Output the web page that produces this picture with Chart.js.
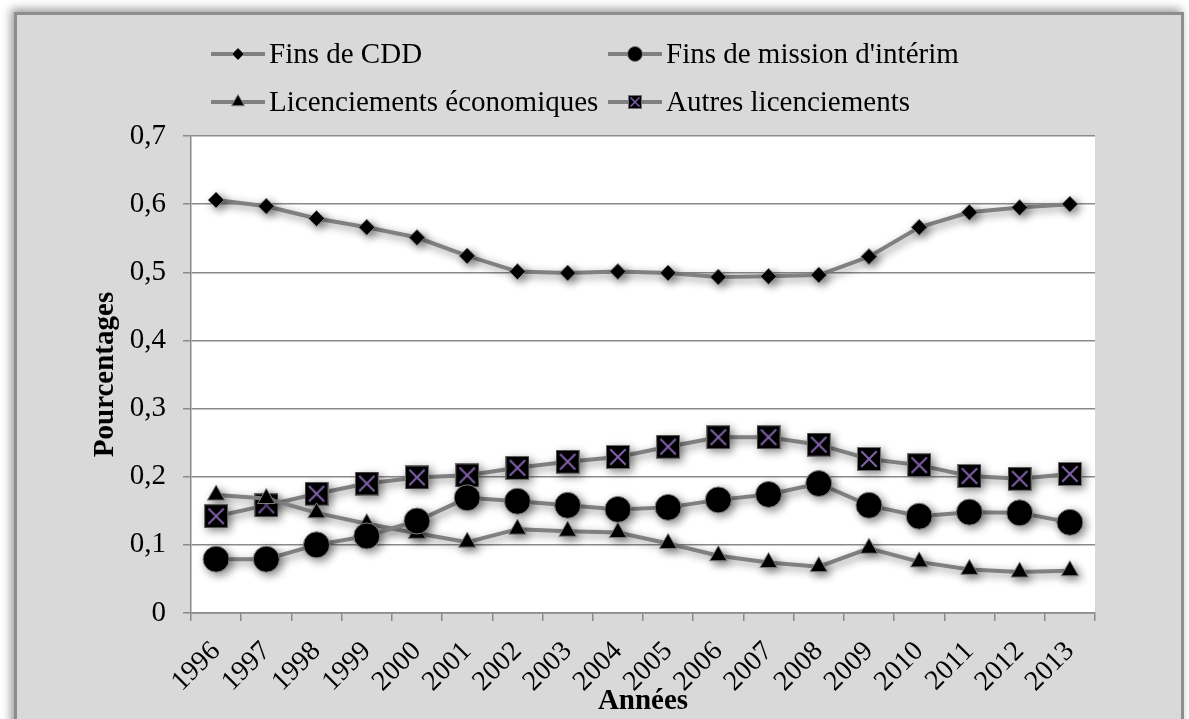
<!DOCTYPE html>
<html>
<head>
<meta charset="utf-8">
<script src="https://cdn.jsdelivr.net/npm/chart.js@4/dist/chart.umd.min.js"></script>
<style>
  body { margin: 0; background: #ffffff; overflow: hidden; }
  .frame {
    position: absolute; left: 14px; top: 12px; width: 1164px; height: 720px;
    background: #d9d9d9;
    border-left: 3px solid #8e8e8e; border-top: 3px solid #8e8e8e; border-right: 3px solid #8e8e8e;
    box-shadow: -3px -3px 9px rgba(0,0,0,0.4);
  }
  canvas { display: block; }
</style>
</head>
<body>
<div class="frame"><canvas id="chart" width="1164" height="704"></canvas></div>
<script>
// Data
const years = ['1996','1997','1998','1999','2000','2001','2002','2003','2004','2005','2006','2007','2008','2009','2010','2011','2012','2013'];
const finsCDD = [0.606, 0.597, 0.579, 0.566, 0.551, 0.524, 0.501, 0.499, 0.501, 0.499, 0.493, 0.494, 0.496, 0.523, 0.566, 0.588, 0.595, 0.600];
const finsInterim = [0.079, 0.079, 0.100, 0.113, 0.135, 0.169, 0.164, 0.158, 0.152, 0.155, 0.166, 0.174, 0.190, 0.158, 0.142, 0.148, 0.147, 0.133];
const licEco = [0.173, 0.168, 0.147, 0.131, 0.117, 0.104, 0.123, 0.120, 0.118, 0.102, 0.084, 0.074, 0.068, 0.095, 0.075, 0.064, 0.060, 0.062];
const autresLic = [0.142, 0.158, 0.175, 0.190, 0.199, 0.202, 0.213, 0.222, 0.229, 0.244, 0.258, 0.258, 0.247, 0.226, 0.217, 0.201, 0.197, 0.204];
const yTicks = [0, 0.1, 0.2, 0.3, 0.4, 0.5, 0.6, 0.7];

const LINE = '#808080';
const FONT = '"Liberation Serif", "Times New Roman", serif';
const FSIZE = 29;

// black square with a purple cross
function crossSquare(size) {
  const c = document.createElement('canvas');
  c.width = size; c.height = size;
  const g = c.getContext('2d');
  g.fillStyle = '#000';
  g.fillRect(0, 0, size, size);
  g.strokeStyle = '#6f6f6f';
  g.lineWidth = 1;
  g.strokeRect(0.5, 0.5, size - 1, size - 1);
  g.strokeStyle = '#8060a8';
  g.lineWidth = size > 15 ? 2 : 1.5;
  const m = size * 0.18;
  g.beginPath();
  g.moveTo(m, m); g.lineTo(size - m, size - m);
  g.moveTo(size - m, m); g.lineTo(m, size - m);
  g.stroke();
  return c;
}

const series = [
  { label: 'Fins de CDD', data: finsCDD, style: 'rectRot', radius: 8, legendRadius: 6 },
  { label: "Fins de mission d'intérim", data: finsInterim, style: 'circle', radius: 13, legendRadius: 7.5 },
  { label: 'Licenciements économiques', data: licEco, style: 'triangle', radius: 10, legendRadius: 7.5 },
  { label: 'Autres licenciements', data: autresLic, style: crossSquare(24), legendStyle: crossSquare(14), radius: 12, legendRadius: 7 }
];

const plotBg = {
  id: 'plotBg',
  beforeDraw(chart) {
    const { ctx, chartArea: a } = chart;
    ctx.save();
    ctx.fillStyle = '#ffffff';
    ctx.fillRect(a.left, a.top, a.right - a.left, a.bottom - a.top);
    ctx.restore();
  }
};

const shadow = {
  id: 'shadow',
  beforeDatasetsDraw(chart) {
    const ctx = chart.ctx;
    ctx.save();
    ctx.shadowColor = 'rgba(0,0,0,0.45)';
    ctx.shadowBlur = 9;
    ctx.shadowOffsetX = 3;
    ctx.shadowOffsetY = 3;
  },
  afterDatasetsDraw(chart) {
    chart.ctx.restore();
  }
};

// two-column legend: line + marker + label
const legend2col = {
  id: 'legend2col',
  afterDraw(chart) {
    const ctx = chart.ctx;
    const cols = [194, 591];
    const rows = [39, 87];
    ctx.save();
    ctx.font = FSIZE + 'px ' + FONT;
    ctx.textBaseline = 'middle';
    series.forEach((s, i) => {
      const x = cols[i % 2];
      const y = rows[Math.floor(i / 2)];
      ctx.strokeStyle = LINE;
      ctx.lineWidth = 4;
      ctx.beginPath();
      ctx.moveTo(x, y); ctx.lineTo(x + 54, y);
      ctx.stroke();
      const style = s.legendStyle || s.style;
      ctx.fillStyle = '#000';
      ctx.strokeStyle = LINE;
      ctx.lineWidth = 1;
      Chart.helpers.drawPoint(ctx, { pointStyle: style, radius: s.legendRadius, borderWidth: 1, rotation: 0 }, x + 27, y);
      ctx.fillStyle = '#000';
      ctx.fillText(s.label, x + 58, y + 1);
    });
    ctx.restore();
  }
};

new Chart(document.getElementById('chart'), {
  type: 'line',
  data: {
    labels: years,
    datasets: series.map(s => ({
      label: s.label,
      data: s.data,
      borderColor: LINE,
      borderWidth: 4,
      pointStyle: s.style,
      pointRadius: s.radius,
      pointBackgroundColor: '#000',
      pointBorderColor: LINE,
      pointBorderWidth: 1,
      tension: 0,
      clip: false
    }))
  },
  options: {
    responsive: false,
    animation: false,
    layout: { padding: { left: 71, top: 121, right: 86, bottom: 0 } },
    plugins: {
      legend: { display: false },
      tooltip: { enabled: false }
    },
    scales: {
      x: {
        offset: true,
        grid: { offset: true, drawOnChartArea: false, drawTicks: true, tickLength: 8, color: '#8a8a8a', lineWidth: 1.5 },
        border: { color: '#8a8a8a', width: 1.5 },
        ticks: { color: '#000', font: { family: FONT, size: 28 }, autoSkip: false, minRotation: 45, maxRotation: 45, padding: 14 },
        title: { display: true, text: 'Années', color: '#000', font: { family: FONT, size: FSIZE, weight: 'bold' }, padding: { top: 0, bottom: 0 } },
        afterFit(scale) { scale.height = 106; }
      },
      y: {
        min: 0,
        max: 0.7,
        afterBuildTicks(scale) { scale.ticks = yTicks.map(v => ({ value: v })); },
        grid: { color: '#8a8a8a', lineWidth: 1.5, tickLength: 8 },
        border: { color: '#8a8a8a', width: 1.5 },
        ticks: {
          color: '#000',
          font: { family: FONT, size: FSIZE },
          padding: 17,
          callback: v => v === 0 ? '0' : v.toFixed(1).replace('.', ',')
        },
        title: { display: true, text: 'Pourcentages', color: '#000', font: { family: FONT, size: FSIZE, weight: 'bold' }, padding: { top: 0, bottom: 0 } },
        afterFit(scale) { scale.width = 103; }
      }
    }
  },
  plugins: [plotBg, shadow, legend2col]
});
</script>
</body>
</html>
